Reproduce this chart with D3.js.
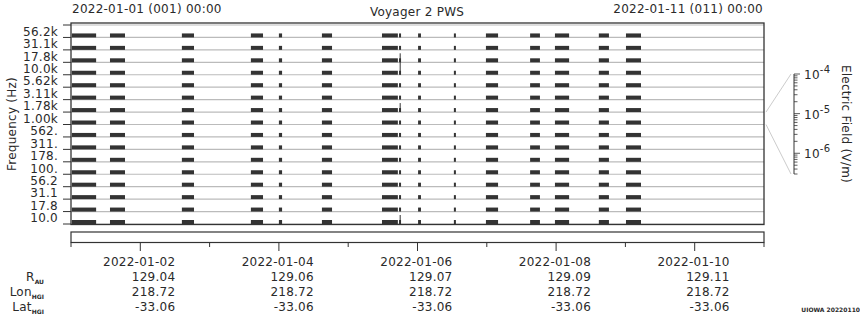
<!DOCTYPE html>
<html>
<head>
<meta charset="utf-8">
<script src="https://cdn.jsdelivr.net/npm/d3@7.9.0/dist/d3.min.js"></script>
<style>
  body { margin: 0; background: #fff; }
  svg text { font-family: "DejaVu Sans", sans-serif; fill: #2a2a2a; letter-spacing: 0.25px; }
</style>
</head>
<body>
<svg id="chart" width="860" height="320"></svg>
<script>
// frequency channels, top to bottom
const channels = ['56.2k', '31.1k', '17.8k', '10.0k', '5.62k', '3.11k', '1.78k', '1.00k',
  '562.', '311.', '178.', '100.', '56.2', '31.1', '17.8', '10.0'];

// data coverage, hours after 2022-01-01 00:00 (same for all channels)
const segments = [
  [0.3, 8.7], [13.5, 18.7], [38.4, 42.6], [62.3, 66.5], [72.0, 73.1],
  [86.9, 90.4], [107.7, 113.2], [113.6, 114.3], [120.2, 121.2], [132.6, 133.3],
  [143.7, 147.9], [159.0, 162.4], [167.6, 172.5], [182.8, 186.3], [192.2, 197.4]
];

// short spikes: hour, first channel, last channel
const spikes = [[114.0, '17.8k', '10.0k'], [114.0, '1.78k', '1.78k'], [114.0, '10.0', '10.0']];

const dateTicks = ['2022-01-02', '2022-01-04', '2022-01-06', '2022-01-08', '2022-01-10'];
const rAU = ['129.04', '129.06', '129.07', '129.09', '129.11'];
const lonHGI = ['218.72', '218.72', '218.72', '218.72', '218.72'];
const latHGI = ['-33.06', '-33.06', '-33.06', '-33.06', '-33.06'];

const fieldTicks = [1e-4, 1e-5, 1e-6];

const svg = d3.select('#chart');
const t0 = new Date(Date.UTC(2022, 0, 1));
const t1 = new Date(Date.UTC(2022, 0, 11));
const hour = (h) => new Date(t0.getTime() + h * 3600e3);

const x = d3.scaleUtc().domain([t0, t1]).range([71, 764]);
const y = d3.scaleBand().domain(channels).range([25, 224]);

// header
svg.append('text').attr('x', 72).attr('y', 13).attr('font-size', 12).text('2022-01-01 (001) 00:00');
svg.append('text').attr('x', 417).attr('y', 16).attr('font-size', 12).attr('text-anchor', 'middle').text('Voyager 2 PWS');
svg.append('text').attr('x', 763).attr('y', 13).attr('font-size', 12).attr('text-anchor', 'end').text('2022-01-11 (011) 00:00');

// channel baselines
channels.forEach((c) => {
  svg.append('line')
    .attr('x1', 71).attr('x2', 764)
    .attr('y1', y(c) + y.bandwidth()).attr('y2', y(c) + y.bandwidth())
    .attr('stroke', '#bbb').attr('stroke-width', 1.2);
});
svg.append('line').attr('x1', 71).attr('x2', 764).attr('y1', 25).attr('y2', 25)
  .attr('stroke', '#bbb').attr('stroke-width', 1.2);

// coverage bars
channels.forEach((c) => {
  svg.selectAll(null)
    .data(segments)
    .join('rect')
    .attr('x', (d) => x(hour(d[0])))
    .attr('width', (d) => x(hour(d[1])) - x(hour(d[0])))
    .attr('y', y(c) + y.bandwidth() - 4)
    .attr('height', 4)
    .attr('fill', '#333');
});

spikes.forEach(([h, a, b]) => {
  svg.append('line')
    .attr('x1', x(hour(h))).attr('x2', x(hour(h)))
    .attr('y1', y(a) + y.bandwidth() - 9).attr('y2', y(b) + y.bandwidth())
    .attr('stroke', '#333').attr('stroke-width', 1);
});

// frame
svg.append('rect').attr('x', 71).attr('y', 23).attr('width', 693).attr('height', 201.5)
  .attr('fill', 'none').attr('stroke', '#333').attr('stroke-width', 1.3);

// frequency axis
channels.forEach((c, i) => {
  svg.append('line').attr('x1', 63).attr('x2', 71)
    .attr('y1', y(c)).attr('y2', y(c)).attr('stroke', '#333');
  svg.append('text').attr('x', 58).attr('y', y(c) + y.bandwidth() / 2 + 4.5)
    .attr('font-size', 12).attr('text-anchor', 'end').text(c);
});
svg.append('line').attr('x1', 63).attr('x2', 71).attr('y1', 224).attr('y2', 224).attr('stroke', '#333');

svg.append('text')
  .attr('transform', 'translate(16,124) rotate(-90)')
  .attr('font-size', 12).attr('text-anchor', 'middle').text('Frequency (Hz)');

// electric field scale
const fy = d3.scaleLog().domain([3e-7, 1e-4]).range([174, 74]);
const cb = svg.append('g').attr('transform', 'translate(794,0)');
cb.append('line').attr('x1', 0).attr('x2', 0).attr('y1', 74).attr('y2', 174).attr('stroke', '#333');
const minor = [];
[1e-7, 1e-6, 1e-5].forEach((dec) => {
  for (let k = 1; k <= 9; k++) {
    const v = dec * k;
    if (v >= 3e-7 && v <= 1e-4) minor.push(v);
  }
});
minor.push(1e-4);
cb.selectAll('.mt').data(minor).join('line')
  .attr('x1', 0).attr('x2', (d) => (fieldTicks.includes(d) ? 6 : 3.5))
  .attr('y1', (d) => fy(d)).attr('y2', (d) => fy(d))
  .attr('stroke', '#333').attr('stroke-width', 0.8);
fieldTicks.forEach((v) => {
  const t = cb.append('text').attr('x', 10).attr('y', fy(v) + 5).attr('font-size', 12);
  t.append('tspan').text('10');
  t.append('tspan').attr('dy', -6).attr('font-size', 10).text(String(Math.round(Math.log10(v))));
});
svg.append('line').attr('x1', 766).attr('y1', y('1.00k')).attr('x2', 791).attr('y2', 74)
  .attr('stroke', '#ccc');
svg.append('line').attr('x1', 766).attr('y1', y('1.00k') + y.bandwidth()).attr('x2', 791).attr('y2', 174)
  .attr('stroke', '#ccc');
svg.append('text')
  .attr('transform', 'translate(842,124) rotate(90)')
  .attr('font-size', 12).attr('text-anchor', 'middle').text('Electric Field (V/m)');

// time strip
svg.append('rect').attr('x', 71).attr('y', 232).attr('width', 693).attr('height', 10.5)
  .attr('fill', 'none').attr('stroke', '#333').attr('stroke-width', 1.2);
const days = d3.utcDay.range(t0, d3.utcDay.offset(t1, 1));
svg.selectAll('.dt').data(days).join('line')
  .attr('x1', (d) => x(d)).attr('x2', (d) => x(d))
  .attr('y1', 242.5).attr('y2', (d) => (d.getUTCDate() % 2 === 0 ? 251 : 247))
  .attr('stroke', '#333');

const rows = [dateTicks, rAU, lonHGI, latHGI];
rows.forEach((row, r) => {
  row.forEach((v, i) => {
    const cx = x(new Date(dateTicks[i] + 'T00:00:00Z'));
    svg.append('text').attr('x', cx + 35).attr('y', 266 + r * 15)
      .attr('font-size', 12).attr('text-anchor', 'end').text(v);
  });
});

const rowNames = [['R', 'AU'], ['Lon', 'HGI'], ['Lat', 'HGI']];
rowNames.forEach(([main, sub], r) => {
  const t = svg.append('text').attr('x', 44).attr('y', 281 + r * 15)
    .attr('font-size', 12).attr('text-anchor', 'end');
  t.append('tspan').text(main);
  t.append('tspan').attr('dy', 3).attr('font-size', 6).attr('font-weight', 'bold')
    .style('letter-spacing', '0px').text(sub);
});

svg.append('text').attr('x', 860).attr('y', 312).attr('font-size', 6)
  .attr('font-weight', 'bold').attr('text-anchor', 'end')
  .style('letter-spacing', '0px').text('UIOWA 20220110');
</script>
</body>
</html>
